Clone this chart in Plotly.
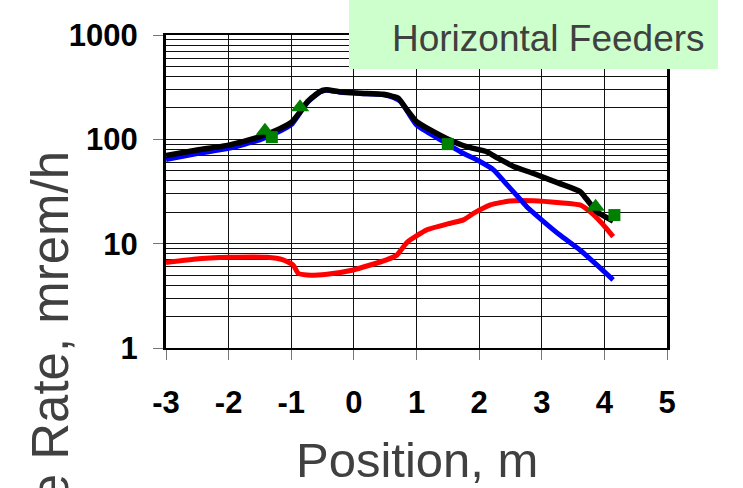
import plotly.graph_objects as go

# ---- data ----
black_x = [-3.0, -2.5, -2.0, -1.5, -1.2, -1.0, -0.87, -0.74, -0.54, -0.44, -0.22, 0.1, 0.47, 0.63, 0.71, 0.85, 1.0, 1.22, 1.48, 1.8, 2.12, 2.3, 2.55, 2.87, 3.27, 3.61, 3.71, 3.88, 4.14]
black_y = [70, 79, 88, 106, 125, 145, 180, 230, 287, 298, 285, 277, 270, 257, 248, 191, 148, 123, 102, 85, 76, 66, 55, 47, 38, 31.6, 27, 20.3, 16.5]

blue_x = [-3.0, -2.5, -2.0, -1.5, -1.2, -1.0, -0.87, -0.74, -0.54, -0.44, -0.22, 0.1, 0.47, 0.63, 0.75, 1.0, 1.38, 1.7, 2.02, 2.23, 2.44, 2.6, 2.76, 3.03, 3.29, 3.61, 3.88, 4.14]
blue_y = [64, 73, 82, 99, 118, 138, 176, 226, 284, 296, 283, 275, 268, 252, 230, 137, 99, 76, 61, 51, 37, 29, 22.6, 16.3, 12.1, 8.7, 6.25, 4.5]

red_x = [-3.0, -2.56, -1.99, -1.39, -1.13, -0.97, -0.89, -0.75, -0.43, -0.01, 0.52, 0.69, 0.85, 1.16, 1.54, 1.75, 1.91, 2.18, 2.49, 2.87, 3.29, 3.61, 3.77, 3.96, 4.14]
red_y = [6.6, 7.1, 7.4, 7.4, 7.0, 6.25, 5.2, 5.0, 5.1, 5.6, 7.0, 7.8, 10.3, 13.5, 15.7, 16.9, 19.5, 23.5, 25.7, 25.8, 24.7, 23.5, 20.3, 15.7, 11.7]

tri_x = [-1.42, -0.86, 3.86]
tri_y = [121, 203, 22.6]
sq_x = [-1.31, 1.50, 4.16]
sq_y = [105, 90, 18.8]

x_ticks = [-3, -2, -1, 0, 1, 2, 3, 4, 5]
x_ticktext = ["-3", "-2", "-1", "0", "1", "2", "3", "4", "5"]
y_ticks = [1, 10, 100, 1000]
y_ticktext = ["1", "10", "100", "1000"]

title_text = "Horizontal Feeders"
x_title = "Position, m"
y_title = "Dose Rate, mrem/h"

fig = go.Figure()
fig.add_trace(go.Scatter(x=red_x, y=red_y, mode="lines",
                         line=dict(color="#ff0000", width=5, shape="spline", smoothing=0.5)))
fig.add_trace(go.Scatter(x=blue_x, y=blue_y, mode="lines",
                         line=dict(color="#0000ff", width=5, shape="spline", smoothing=0.5)))
fig.add_trace(go.Scatter(x=black_x, y=black_y, mode="lines",
                         line=dict(color="#000000", width=5.5, shape="spline", smoothing=0.5)))
fig.add_trace(go.Scatter(x=tri_x, y=tri_y, mode="markers",
                         marker=dict(symbol="triangle-up", size=16, color="#008000")))
fig.add_trace(go.Scatter(x=sq_x, y=sq_y, mode="markers",
                         marker=dict(symbol="square", size=12, color="#008000")))

tickfont = dict(family="Liberation Sans, Arial, sans-serif", size=31, color="black", weight="bold")

fig.update_layout(
    width=743, height=488,
    margin=dict(l=166, r=76, t=35, b=140),
    paper_bgcolor="white", plot_bgcolor="white",
    showlegend=False,
    xaxis=dict(range=[-3, 5], tickvals=x_ticks, ticktext=x_ticktext,
               showgrid=True, gridcolor="#111", gridwidth=1,
               showline=True, linecolor="black", linewidth=2, mirror=True,
               ticks="outside", ticklen=10, tickcolor="#777", tickwidth=1,
               tickfont=tickfont, ticklabelstandoff=16, zeroline=False),
    yaxis=dict(type="log", range=[0, 3], tickvals=y_ticks, ticktext=y_ticktext,
               showgrid=True, gridcolor="#111", gridwidth=1,
               minor=dict(dtick="D1", showgrid=True, gridcolor="#111", gridwidth=1, ticks=""),
               showline=True, linecolor="black", linewidth=3, mirror=True,
               ticks="outside", ticklen=10, tickcolor="#777", tickwidth=1,
               tickfont=tickfont, ticklabelstandoff=9, zeroline=False),
    shapes=[dict(type="rect", xref="paper", yref="paper",
                 x0=(349 - 166) / 501, x1=(718 - 166) / 501,
                 y0=(348 - 69) / 313, y1=(348 + 5) / 313,
                 fillcolor="#ccffcc", line=dict(width=0), layer="above")],
    annotations=[
        dict(text=title_text, xref="paper", yref="paper", x=(548 - 166) / 501, y=(348 - 38) / 313,
             xanchor="center", yanchor="middle", showarrow=False,
             font=dict(family="Liberation Sans, Arial, sans-serif", size=37, color="#404040")),
        dict(text=x_title, xref="paper", yref="paper", x=0.5, y=(348 - 460) / 313,
             xanchor="center", yanchor="middle", showarrow=False,
             font=dict(family="Liberation Sans, Arial, sans-serif", size=49, color="#404040")),
        dict(text=y_title, xref="paper", yref="paper", x=(50 - 166) / 501, y=(348 - 372) / 313,
             xanchor="center", yanchor="middle", showarrow=False, textangle=-90,
             font=dict(family="Liberation Sans, Arial, sans-serif", size=51, color="#404040")),
    ],
)

fig.write_html("out.html")
